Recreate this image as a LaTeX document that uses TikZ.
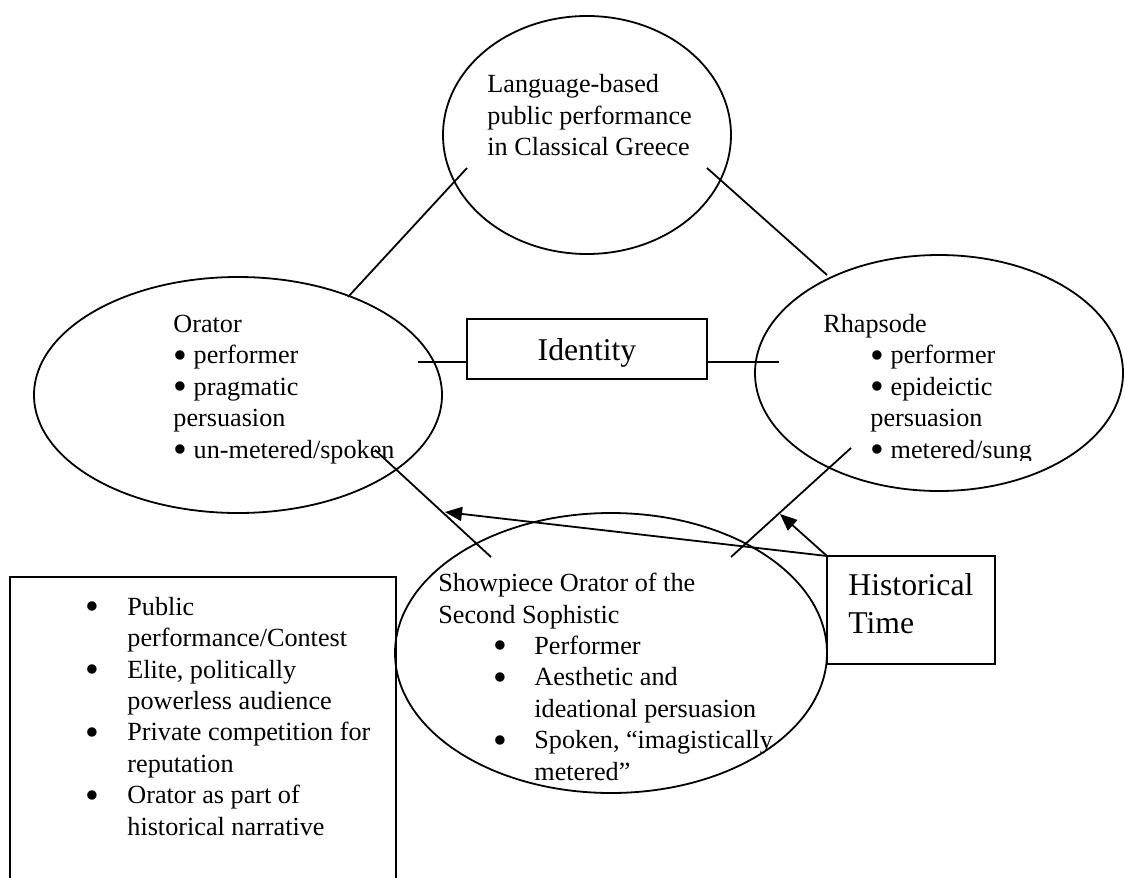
\documentclass[tikz,border=0pt]{standalone}
\usepackage{fontspec}
\setmainfont{Liberation Serif}
\usetikzlibrary{shapes.geometric,arrows.meta}

% a round bullet, a little heavier than the font's own
\newcommand{\dotb}{\raisebox{-2.2pt}{\scalebox{1.5}{•}}}
\newcommand{\spbul}{\makebox[20.5pt][l]{\dotb}}
\newcommand{\ctxbul}{\makebox[21pt][l]{\dotb}}

\tikzset{
  oval/.style={draw, ellipse, line width=0.9pt, inner sep=0pt, outer sep=0pt},
  frame/.style={draw, rectangle, line width=0.9pt, inner sep=0pt, outer sep=0pt},
  % multi-line texts are placed by the baseline of their last line
  body/.style={inner sep=0pt, anchor=base west, align=left,
               font=\fontsize{13.1pt}{15.7pt}\selectfont},
  big/.style={inner sep=0pt, anchor=base west, align=left,
              font=\fontsize{15.85pt}{19pt}\selectfont},
  link/.style={line width=0.9pt},
  timearrow/.style={line width=0.9pt, -{Triangle[length=8.5pt,width=7pt]}}
}

\begin{document}
\begin{tikzpicture}[x=0.5pt,y=-0.5pt]
\useasboundingbox (0,0) rectangle (1125,878);
\clip (0,0) rectangle (1125,878);

% the four ellipses
\node[oval, minimum width=144pt, minimum height=119pt] (greece)   at (587,135) {};
\node[oval, minimum width=204pt, minimum height=118pt] (orator)   at (238,395) {};
\node[oval, minimum width=184pt, minimum height=118pt] (rhapsode) at (939,373) {};
\node[oval, minimum width=216pt, minimum height=140pt] (sophist)  at (611,653) {};

% texts inside the ellipses
\node[body] (greecetxt) at (487,155.5)
  {Language-based\\public performance\\in Classical Greece};
\node[body] (oratortxt) at (173,458)
  {Orator\\\dotb{} performer\\\dotb{} pragmatic\\persuasion\\\dotb{} un-metered/spoken};
\begin{scope}
  \clip (700,250) rectangle (1125,460);
  \node[body] (rhapsodetxt) at (823,458)
    {Rhapsode\\
     \hspace*{23.5pt}\dotb{} performer\\
     \hspace*{23.5pt}\dotb{} epideictic\\
     \hspace*{23.5pt}persuasion\\
     \hspace*{23.5pt}\dotb{} metered/sung};
\end{scope}
\node[body] (sophisttxt) at (438,780)
  {Showpiece Orator of the\\
   Second Sophistic\\
   \hspace*{27.5pt}\spbul Performer\\
   \hspace*{27.5pt}\spbul Aesthetic and\\
   \hspace*{48pt}ideational persuasion\\
   \hspace*{27.5pt}\spbul Spoken, “imagistically\\
   \hspace*{48pt}metered”};

% Identity box
\node[frame, minimum width=120pt, minimum height=30pt, text depth=0pt,
      font=\fontsize{15.85pt}{19pt}\selectfont] (identity) at (587,349) {Identity};

% Historical Time box
\node[frame, minimum width=84pt, minimum height=54pt] (hist) at (911,610) {};
\node[big] (histtxt) at (848,633) {Historical\\Time};

% context box, running off the lower edge
\node[frame, minimum width=193pt, minimum height=161.5pt] (context) at (203,738.5) {};
\node[body] (contexttxt) at (85,835)
  {\ctxbul Public\\
   \hspace*{21pt}performance/Contest\\
   \ctxbul Elite, politically\\
   \hspace*{21pt}powerless audience\\
   \ctxbul Private competition for\\
   \hspace*{21pt}reputation\\
   \ctxbul Orator as part of\\
   \hspace*{21pt}historical narrative};

% connector end points
\coordinate (gL) at (467,168);
\coordinate (oT) at (348,297);
\coordinate (gR) at (707,168);
\coordinate (rT) at (827,275);
\coordinate (oI) at (418,362);
\coordinate (rI) at (779,362);
\coordinate (oS) at (375,450);
\coordinate (sO) at (491,557);
\coordinate (rS) at (851,448);
\coordinate (sR) at (731,557);
\coordinate (tipO) at (445,512);
\coordinate (tipR) at (780,514);

% connectors
\draw[link] (gL) -- (oT);
\draw[link] (gR) -- (rT);
\draw[link] (oI) -- (identity.west |- oI);
\draw[link] (identity.east |- rI) -- (rI);
\draw[link] (oS) -- (sO);
\draw[link] (rS) -- (sR);

% time arrows
\draw[timearrow] (hist.north west) -- (tipO);
\draw[timearrow] (hist.north west) -- (tipR);
\end{tikzpicture}
\end{document}
